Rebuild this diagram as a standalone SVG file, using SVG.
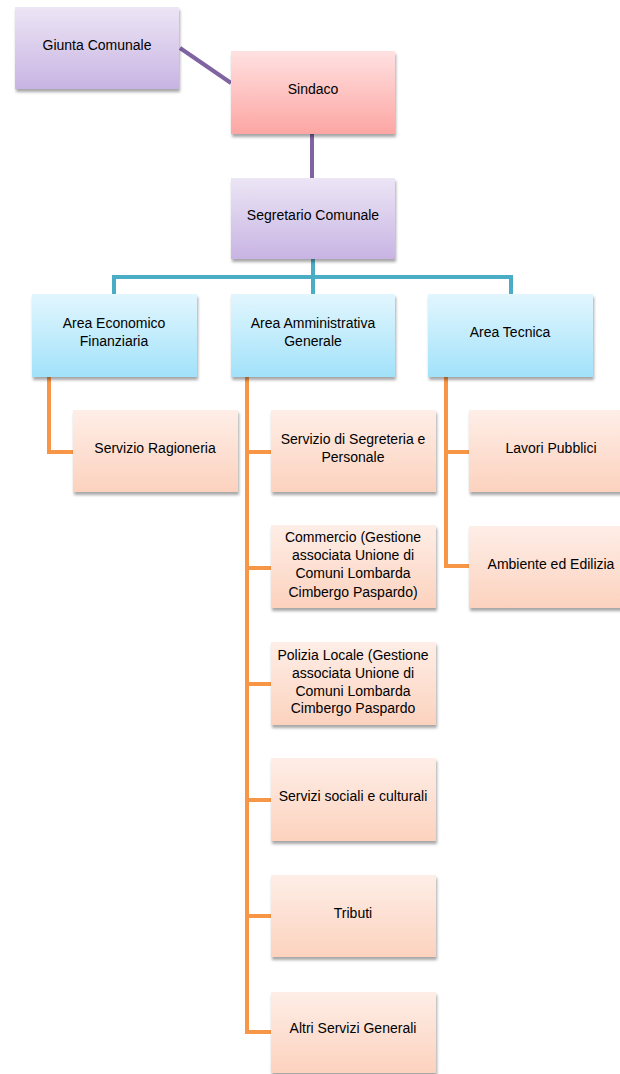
<svg xmlns="http://www.w3.org/2000/svg" width="620" height="1074" viewBox="0 0 620 1074">
<style>
text{font-family:"Liberation Sans",Arial,sans-serif;font-size:14px;fill:#000;text-anchor:middle}
.c{fill:none;stroke-width:4;stroke-linejoin:miter;stroke-linecap:butt}
.p{stroke:#8064a2}.b{stroke:#4bacc6}.o{stroke:#f79646}
rect{filter:url(#sh)}
</style>
<defs>
<linearGradient id="gp" x1="0" y1="0" x2="0" y2="1"><stop offset="0" stop-color="#ece5f5"/><stop offset="1" stop-color="#c8b4e3"/></linearGradient>
<linearGradient id="gr" x1="0" y1="0" x2="0" y2="1"><stop offset="0" stop-color="#ffe1e1"/><stop offset="1" stop-color="#fca6a3"/></linearGradient>
<linearGradient id="gb" x1="0" y1="0" x2="0" y2="1"><stop offset="0" stop-color="#e2f6fe"/><stop offset="1" stop-color="#a2e2fa"/></linearGradient>
<linearGradient id="go" x1="0" y1="0" x2="0" y2="1"><stop offset="0" stop-color="#feeee7"/><stop offset="1" stop-color="#fcd2be"/></linearGradient>
<filter id="sh" x="-10%" y="-10%" width="125%" height="135%"><feGaussianBlur in="SourceAlpha" stdDeviation="1.6"/><feOffset dx="1" dy="3" result="b"/><feComponentTransfer><feFuncA type="linear" slope="0.35"/></feComponentTransfer><feMerge><feMergeNode/><feMergeNode in="SourceGraphic"/></feMerge></filter>
</defs>
<g id="connectors">
<path class="c p" d="M180 48 L231 83"/>
<path class="c p" d="M312 134 V178"/>
<path class="c b" d="M313 259 V294 M114 294 V277 H511 V294"/>
<path class="c o" d="M49 377 V452 H73"/>
<path class="c o" d="M247 377 V1032 H271 M247 452 H271 M247 568 H271 M247 684 H271 M247 800 H271 M247 916 H271"/>
<path class="c o" d="M446 377 V566 H469 M446 452 H469"/>
</g>
<g id="giunta"><rect x="15" y="7" width="164" height="82" fill="url(#gp)"/><text x="97" y="50">Giunta Comunale</text></g>
<g id="sindaco"><rect x="231" y="51" width="164" height="83" fill="url(#gr)"/><text x="313" y="94">Sindaco</text></g>
<g id="segretario"><rect x="231" y="178" width="164" height="81" fill="url(#gp)"/><text x="313" y="220">Segretario Comunale</text></g>
<g id="area-economico"><rect x="32" y="294" width="165" height="83" fill="url(#gb)"/><text x="114" y="328">Area Economico</text><text x="114" y="346">Finanziaria</text></g>
<g id="area-amministrativa"><rect x="231" y="294" width="164" height="83" fill="url(#gb)"/><text x="313" y="328">Area Amministrativa</text><text x="313" y="346">Generale</text></g>
<g id="area-tecnica"><rect x="428" y="294" width="165" height="83" fill="url(#gb)"/><text x="510" y="337">Area Tecnica</text></g>
<g id="ragioneria"><rect x="73" y="410" width="165" height="82" fill="url(#go)"/><text x="155" y="453">Servizio Ragioneria</text></g>
<g id="segreteria"><rect x="271" y="410" width="165" height="82" fill="url(#go)"/><text x="353" y="444">Servizio di Segreteria e</text><text x="353" y="462">Personale</text></g>
<g id="lavori"><rect x="469" y="410" width="165" height="82" fill="url(#go)"/><text x="551" y="453">Lavori Pubblici</text></g>
<g id="ambiente"><rect x="469" y="526" width="165" height="82" fill="url(#go)"/><text x="551" y="569">Ambiente ed Edilizia</text></g>
<g id="commercio"><rect x="271" y="525" width="165" height="83" fill="url(#go)"/><text x="353" y="542">Commercio (Gestione</text><text x="353" y="560">associata Unione di</text><text x="353" y="578">Comuni Lombarda</text><text x="353" y="597">Cimbergo Paspardo)</text></g>
<g id="polizia"><rect x="271" y="642" width="165" height="83" fill="url(#go)"/><text x="353" y="660">Polizia Locale (Gestione</text><text x="353" y="678">associata Unione di</text><text x="353" y="696">Comuni Lombarda</text><text x="353" y="713">Cimbergo Paspardo</text></g>
<g id="sociali"><rect x="271" y="758" width="165" height="83" fill="url(#go)"/><text x="353" y="801">Servizi sociali e culturali</text></g>
<g id="tributi"><rect x="271" y="875" width="165" height="82" fill="url(#go)"/><text x="353" y="918">Tributi</text></g>
<g id="altri"><rect x="271" y="992" width="165" height="81" fill="url(#go)"/><text x="353" y="1033">Altri Servizi Generali</text></g>
</svg>
